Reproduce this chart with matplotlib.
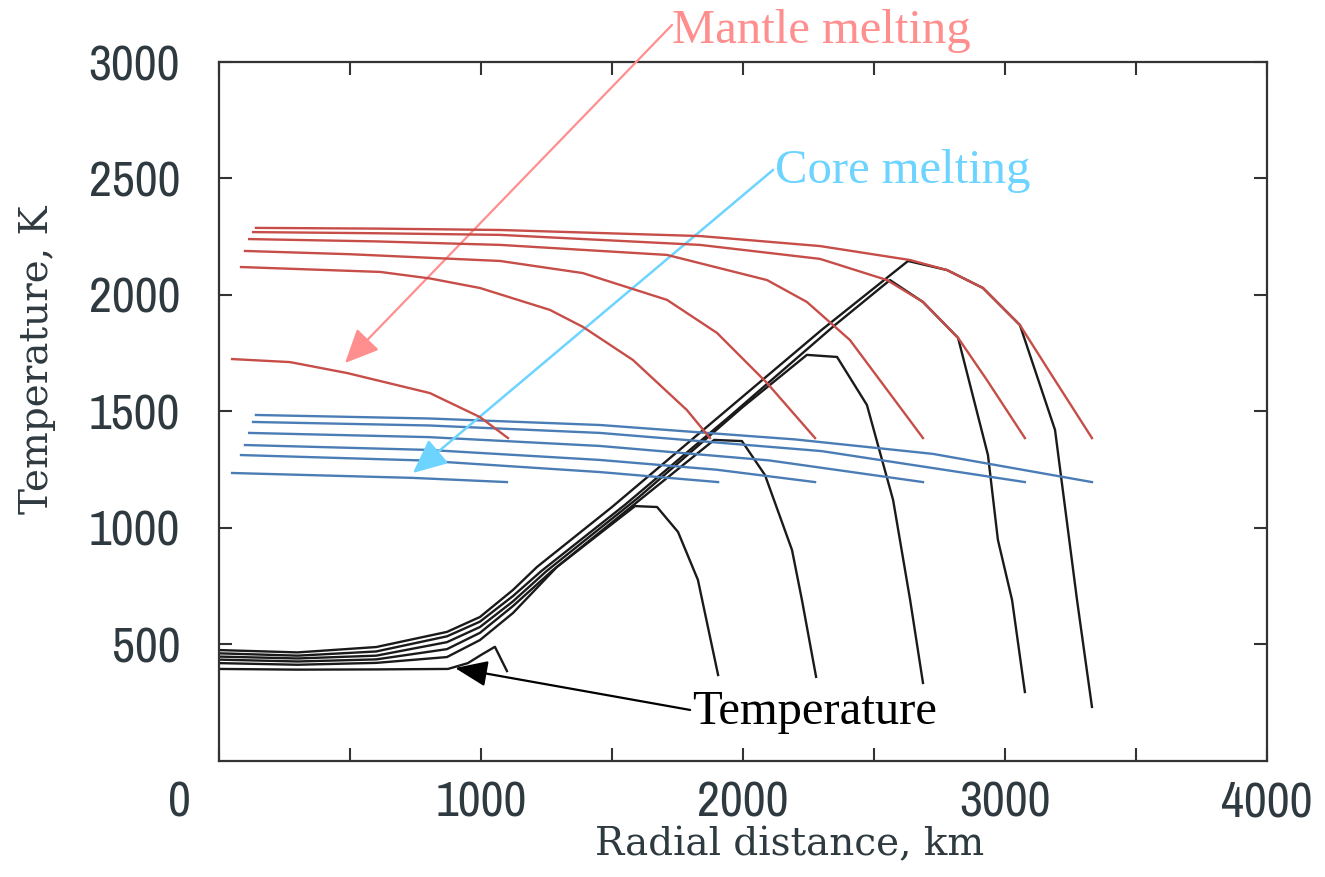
import matplotlib
matplotlib.use("Agg")
import matplotlib.pyplot as plt
from matplotlib import font_manager
from matplotlib.font_manager import FontProperties
from matplotlib.transforms import ScaledTranslation

# mantle melting curves (solidus), km / K
red_x = [
    [50, 271, 489, 805, 996, 1103],
    [84, 615, 805, 996, 1263, 1389, 1580, 1786, 1874],
    [99, 500, 1073, 1389, 1710, 1901, 2092, 2275],
    [115, 600, 1073, 1710, 2092, 2244, 2408, 2599, 2687],
    [130, 600, 1073, 1836, 2294, 2550, 2687, 2821, 2931, 3076],
    [141, 600, 1073, 1836, 2294, 2638, 2779, 2916, 3057, 3183, 3332],
]
red_t = [
    [1725, 1712, 1665, 1579, 1476, 1386],
    [2120, 2099, 2071, 2030, 1936, 1863, 1721, 1506, 1386],
    [2189, 2175, 2146, 2094, 1979, 1837, 1622, 1386],
    [2240, 2230, 2215, 2172, 2064, 1970, 1807, 1519, 1386],
    [2270, 2265, 2258, 2215, 2155, 2064, 1970, 1816, 1635, 1386],
    [2288, 2285, 2279, 2253, 2210, 2150, 2107, 2030, 1871, 1648, 1386],
]

# core melting curves
blue_x = [
    [50, 740, 1099],
    [84, 770, 1454, 1905],
    [99, 800, 1454, 1900, 2275],
    [115, 800, 1454, 2100, 2687],
    [130, 800, 1454, 2300, 3076],
    [141, 800, 1454, 2200, 2725, 3332],
]
blue_t = [
    [1236, 1215, 1197],
    [1313, 1290, 1240, 1197],
    [1356, 1335, 1292, 1250, 1197],
    [1408, 1390, 1352, 1290, 1197],
    [1455, 1440, 1408, 1330, 1197],
    [1485, 1470, 1442, 1380, 1318, 1197],
]

# temperature profiles
temp_x = [
    [0, 300, 600, 874, 950, 1000, 1053, 1099],
    [0, 300, 600, 870, 996, 1122, 1290, 1588, 1672, 1752, 1828, 1905],
    [0, 300, 600, 870, 996, 1122, 1270, 1600, 1890, 1996, 2084, 2187, 2225, 2279],
    [0, 300, 600, 870, 996, 1122, 1250, 1600, 2000, 2244, 2359, 2473, 2573, 2638, 2687],
    [0, 300, 600, 870, 996, 1122, 1230, 1550, 1950, 2350, 2561, 2687, 2821, 2935, 2973, 3027, 3076],
    [0, 300, 600, 870, 996, 1122, 1214, 1500, 1900, 2300, 2630, 2779, 2916, 3057, 3191, 3275, 3332],
]
temp_t = [
    [395, 392, 393, 395, 420, 455, 490, 386],
    [420, 413, 421, 446, 519, 635, 833, 1094, 1090, 983, 777, 369],
    [435, 427, 436, 480, 550, 665, 815, 1115, 1378, 1373, 1227, 906, 691, 361],
    [448, 440, 452, 510, 575, 685, 815, 1130, 1520, 1743, 1734, 1528, 1120, 691, 335],
    [462, 452, 470, 535, 598, 708, 815, 1100, 1480, 1870, 2064, 1970, 1816, 1313, 949, 691, 296],
    [476, 466, 489, 554, 618, 734, 833, 1090, 1470, 1850, 2146, 2107, 2030, 1871, 1421, 691, 232],
]

x_ticks = [0, 1000, 2000, 3000, 4000]
y_ticks = [500, 1000, 1500, 2000, 2500, 3000]


# narrow sans for the tick numbers, if one is installed
def narrow_font(size):
    fonts = font_manager.fontManager.ttflist
    for key in ["Narrow", "Condensed", "Cond"]:
        for f in fonts:
            fn = f.fname
            if key in fn and "Bold" not in fn and "Oblique" not in fn and "Italic" not in fn \
                    and "Light" not in fn and "Semi" not in fn:
                return FontProperties(fname=fn, size=size)
    for f in fonts:
        if f.stretch in ("condensed", "semi-condensed") and f.weight in (400, "normal") \
                and f.style == "normal":
            return FontProperties(fname=f.fname, size=size)
    return FontProperties(family="DejaVu Sans", size=size * 0.8)


fig = plt.figure(figsize=(13.25, 8.77), dpi=100)
ax = fig.add_axes([0.1653, 0.1323, 0.7909, 0.797])

for xs, ts in zip(temp_x, temp_t):
    ax.plot(xs, ts, color="#1a1a1a", lw=1.7, zorder=2)
for xs, ts in zip(blue_x, blue_t):
    ax.plot(xs, ts, color="#4a7db5", lw=1.7, zorder=3)
for xs, ts in zip(red_x, red_t):
    ax.plot(xs, ts, color="#c64d48", lw=1.7, zorder=4)

ax.set_xlim(0, 4000)
ax.set_ylim(0, 3000)
ax.set_xticks(x_ticks)
ax.set_xticks([500, 1500, 2500, 3500], minor=True)
ax.set_yticks(y_ticks)

tick_fp = narrow_font(36)
ax.tick_params(which="both", direction="in", top=True, right=True,
               length=9.5, width=1.5, color="#333333", labelcolor="#2f3a40")
ax.tick_params(axis="x", pad=14)
ax.tick_params(axis="y", pad=28)
for lab in ax.get_xticklabels() + ax.get_yticklabels():
    lab.set_fontproperties(tick_fp)
for sp in ax.spines.values():
    sp.set_linewidth(1.6)
    sp.set_color("#333333")

# the "0" label sits further left in the original
zero = ax.get_xticklabels()[0]
zero.set_transform(zero.get_transform() + ScaledTranslation(-0.40, 0, fig.dpi_scale_trans))

fig.text(790 / 1325, 1 - 845 / 877, "Radial distance, km", ha="center", va="center",
         family="DejaVu Serif", fontsize=28, color="#2f3a40")
fig.text(38 / 1325, 1 - 360 / 877, "Temperature, K", ha="center", va="center",
         rotation=90, family="DejaVu Serif", fontsize=28, color="#2f3a40")

serif = ["Liberation Serif", "DejaVu Serif"]
ax.text(1729, 3082, "Mantle melting", color="#ff8f8f", fontsize=35, family=serif,
        va="baseline", clip_on=False)
ax.text(2122, 2481, "Core melting", color="#6dd3ff", fontsize=35, family=serif,
        va="baseline", clip_on=False)
ax.text(1805, 159, "Temperature", color="black", fontsize=35, family=serif,
        va="baseline", clip_on=False)

ax.annotate("", xy=(481, 1708), xytext=(1729, 3159), annotation_clip=False,
            arrowprops=dict(arrowstyle="-|>,head_length=1.05,head_width=0.48",
                            mutation_scale=20, color="#ff8f8f", lw=1.6,
                            shrinkA=0, shrinkB=0))
ax.annotate("", xy=(740, 1236), xytext=(2115, 2537), annotation_clip=False,
            arrowprops=dict(arrowstyle="-|>,head_length=1.05,head_width=0.48",
                            mutation_scale=20, color="#6dd3ff", lw=1.8,
                            shrinkA=0, shrinkB=0))
ax.annotate("", xy=(901, 399), xytext=(1798, 219), annotation_clip=False,
            arrowprops=dict(arrowstyle="-|>,head_length=1.0,head_width=0.4",
                            mutation_scale=20, color="black", lw=1.6,
                            shrinkA=0, shrinkB=0))

fig.savefig("out.png", dpi=100)
